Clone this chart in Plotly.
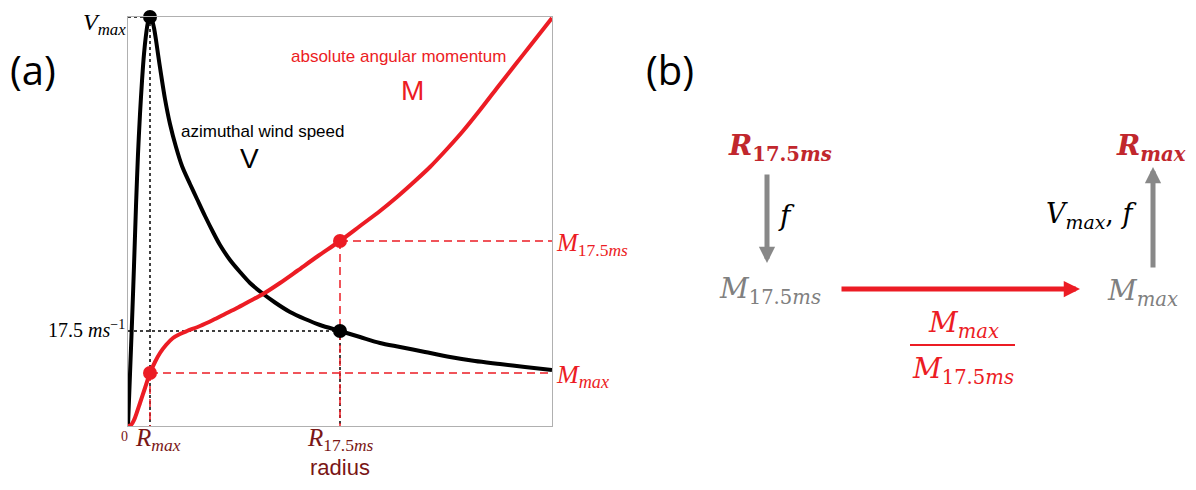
import plotly.graph_objects as go

# radius (arbitrary units, 0-424) and the two profiles (0-409)
r_v = [0, 2, 4, 6, 8, 10, 12, 14, 16, 18, 20, 22, 24, 26, 28, 30, 33, 37, 42, 48, 54,
       62, 69, 77, 85, 92, 102, 112, 122, 134, 147, 162, 177, 192, 212, 232, 252, 272,
       297, 322, 347, 372, 397, 424]
v = [0, 52, 104, 160, 220, 272, 312, 345, 372, 391, 404, 409, 406, 398, 386, 372, 352,
     327, 302, 279, 260, 242, 227, 210, 194, 181, 166, 154, 143, 133, 123.5, 114, 107,
     101, 95, 89, 83, 79, 74, 69, 65, 62, 59, 56]

r_m = [0, 3, 6, 9, 12, 17, 22, 27, 32, 38, 45, 52, 59, 72, 85, 97, 109, 122, 135, 152,
       169, 190, 212, 232, 252, 269, 287, 302, 319, 335, 352, 369, 387, 402, 424]
m = [0, 1, 6, 14, 23, 38, 53, 64, 73, 81, 88, 92, 95, 100, 106, 112, 118, 125, 132, 143,
     155, 170, 185, 200, 215, 229, 245, 259, 277, 295, 316, 338, 361, 380, 408]

r_max, r_175 = 22, 212
v_max, v_175 = 409, 95
m_max, m_175 = 53, 185
R_END, V_TOP = 424, 409

RED = '#ec1c24'
DARK = '#7a1616'
BRED = '#c1272d'
GRAY = '#888888'
OFF = 8  # page body margin
W, H = 1196 - 2 * OFF, 490 - 2 * OFF

def px(x):
    return (x - OFF) / W

def py(y):
    return 1 - (y - OFF) / H

fig = go.Figure()

def seg(x, y, color, dash, width):
    fig.add_trace(go.Scatter(x=x, y=y, mode='lines', cliponaxis=False,
                             line=dict(color=color, dash=dash, width=width),
                             hoverinfo='skip'))

# guide lines
seg([0, r_max], [v_max, v_max], 'black', 'dot', 1.5)
seg([r_max, r_max], [v_max, 0], 'black', 'dot', 1.5)
seg([0, r_175], [v_175, v_175], 'black', 'dot', 1.5)
seg([r_175, r_175], [v_175, 0], 'black', 'dot', 1.5)
seg([r_max, R_END], [m_max, m_max], RED, '8px,5px', 1.5)
seg([r_max, r_max], [m_max, 0], RED, '8px,5px', 1.5)
seg([r_175, R_END], [m_175, m_175], RED, '8px,5px', 1.5)
seg([r_175, r_175], [m_175, 0], RED, '8px,5px', 1.5)

# profiles
fig.add_trace(go.Scatter(x=r_v, y=v, mode='lines', line=dict(color='black', width=4, shape='spline', smoothing=0.8),
                         cliponaxis=False, hoverinfo='skip'))
fig.add_trace(go.Scatter(x=r_m, y=m, mode='lines', line=dict(color=RED, width=4, shape='spline', smoothing=0.8),
                         cliponaxis=False, hoverinfo='skip'))
fig.add_trace(go.Scatter(x=[r_max, r_175], y=[v_max, v_175], mode='markers', cliponaxis=False,
                         marker=dict(color='black', size=14), hoverinfo='skip'))
fig.add_trace(go.Scatter(x=[r_max, r_175], y=[m_max, m_175], mode='markers', cliponaxis=False,
                         marker=dict(color=RED, size=14), hoverinfo='skip'))

SERIF = 'Liberation Serif'
SANS = 'Liberation Sans'
BSERIF = 'DejaVu Serif'

ann = []

def txt(x, y, text, size, color, family, xa='center', ya='middle', ref='x', xs=0, ys=0):
    ann.append(dict(x=x, y=y, xref=ref, yref='y' if ref == 'x' else 'paper', text=text, showarrow=False,
                    font=dict(size=size, color=color, family=family), xanchor=xa, yanchor=ya,
                    xshift=xs, yshift=ys, borderpad=0))

# panel (a) labels
txt(0, v_max, '<i>V</i><sub><i>max</i></sub>', 24, 'black', SERIF, xa='right', ya='top', xs=-1, ys=9)
txt(0, v_175, '17.5 <i>ms</i><sup>−1</sup>', 20, 'black', SERIF, xa='right', xs=-2, ys=2)
txt(0, 0, '0', 14, DARK, SERIF, xa='right', ya='top', xs=1, ys=-2)
txt(r_max, 0, '<i>R</i><sub><i>max</i></sub>', 25, DARK, SERIF, ya='top', xs=8, ys=3)
txt(r_175, 0, '<i>R</i><sub>17.5<i>ms</i></sub>', 25, DARK, SERIF, ya='top', ys=3)
txt(r_175, 0, 'radius', 22, DARK, SANS, ya='bottom', ys=-55)
txt(R_END, m_175, '<i>M</i><sub>17.5<i>ms</i></sub>', 25, RED, SERIF, xa='left', xs=3, ys=-3)
txt(R_END, m_max, '<i>M</i><sub><i>max</i></sub>', 26, RED, SERIF, xa='left', xs=3, ys=-3)
txt(px(398), py(57), 'absolute angular momentum', 17, RED, SANS, ref='paper')
txt(px(413), py(90), 'M', 28, RED, SANS, ref='paper')
txt(px(262), py(131), 'azimuthal wind speed', 17, 'black', SANS, ref='paper')
txt(px(250), py(158), 'V', 28, 'black', SANS, ref='paper')
txt(px(33), py(70), '(a)', 40, 'black', 'Open Sans', ref='paper')
txt(px(670), py(70), '(b)', 40, 'black', 'Open Sans', ref='paper')

# panel (b) labels
txt(px(780), py(148), '<b><i>R</i></b><sub><b>17.5<i>ms</i></b></sub>', 28, BRED, BSERIF, ref='paper')
txt(px(1151), py(148), '<b><i>R</i></b><sub><b><i>max</i></b></sub>', 28, BRED, BSERIF, ref='paper')
txt(px(770), py(290), '<i>M</i><sub>17.5<i>ms</i></sub>', 28, '#808080', BSERIF, ref='paper')
txt(px(1142), py(292), '<i>M</i><sub><i>max</i></sub>', 28, '#808080', BSERIF, ref='paper')
txt(px(786), py(215), '<i>f</i>', 28, 'black', BSERIF, ref='paper')
txt(px(1138), py(215), '<i>V</i><sub><i>max</i></sub>, <i>f</i>', 27, 'black', BSERIF, xa='right', ref='paper')
txt(px(963), py(324), '<i>M</i><sub><i>max</i></sub>', 28, RED, BSERIF, ref='paper')
txt(px(963), py(370), '<i>M</i><sub>17.5<i>ms</i></sub>', 28, RED, BSERIF, ref='paper')

# arrows
for tip, off, col in [((767, 263), (0, -90), GRAY), ((1153, 167), (0, 102), GRAY), ((1080, 289), (-240, 0), RED)]:
    ann.append(dict(x=px(tip[0]), y=py(tip[1]), xref='paper', yref='paper', text='', showarrow=True,
                    ax=off[0], ay=off[1], arrowhead=2, arrowwidth=5, arrowsize=0.65, arrowcolor=col))

fig.update_layout(
    width=W, height=H, showlegend=False, plot_bgcolor='white', paper_bgcolor='white',
    margin=dict(l=0, r=0, t=0, b=0), annotations=ann,
    shapes=[dict(type='line', xref='paper', yref='paper', x0=px(910), x1=px(1015), y0=py(345), y1=py(345),
                 line=dict(color=RED, width=2))],
    xaxis=dict(domain=[px(128), px(552)], range=[0, R_END], showticklabels=False, showgrid=False,
               zeroline=False, showline=True, mirror=True, linecolor='#b0b0b0', linewidth=1, ticks=''),
    yaxis=dict(domain=[py(426), py(17)], range=[0, V_TOP], showticklabels=False, showgrid=False,
               zeroline=False, showline=True, mirror=True, linecolor='#b0b0b0', linewidth=1, ticks=''),
)

fig.write_html('out.html')
